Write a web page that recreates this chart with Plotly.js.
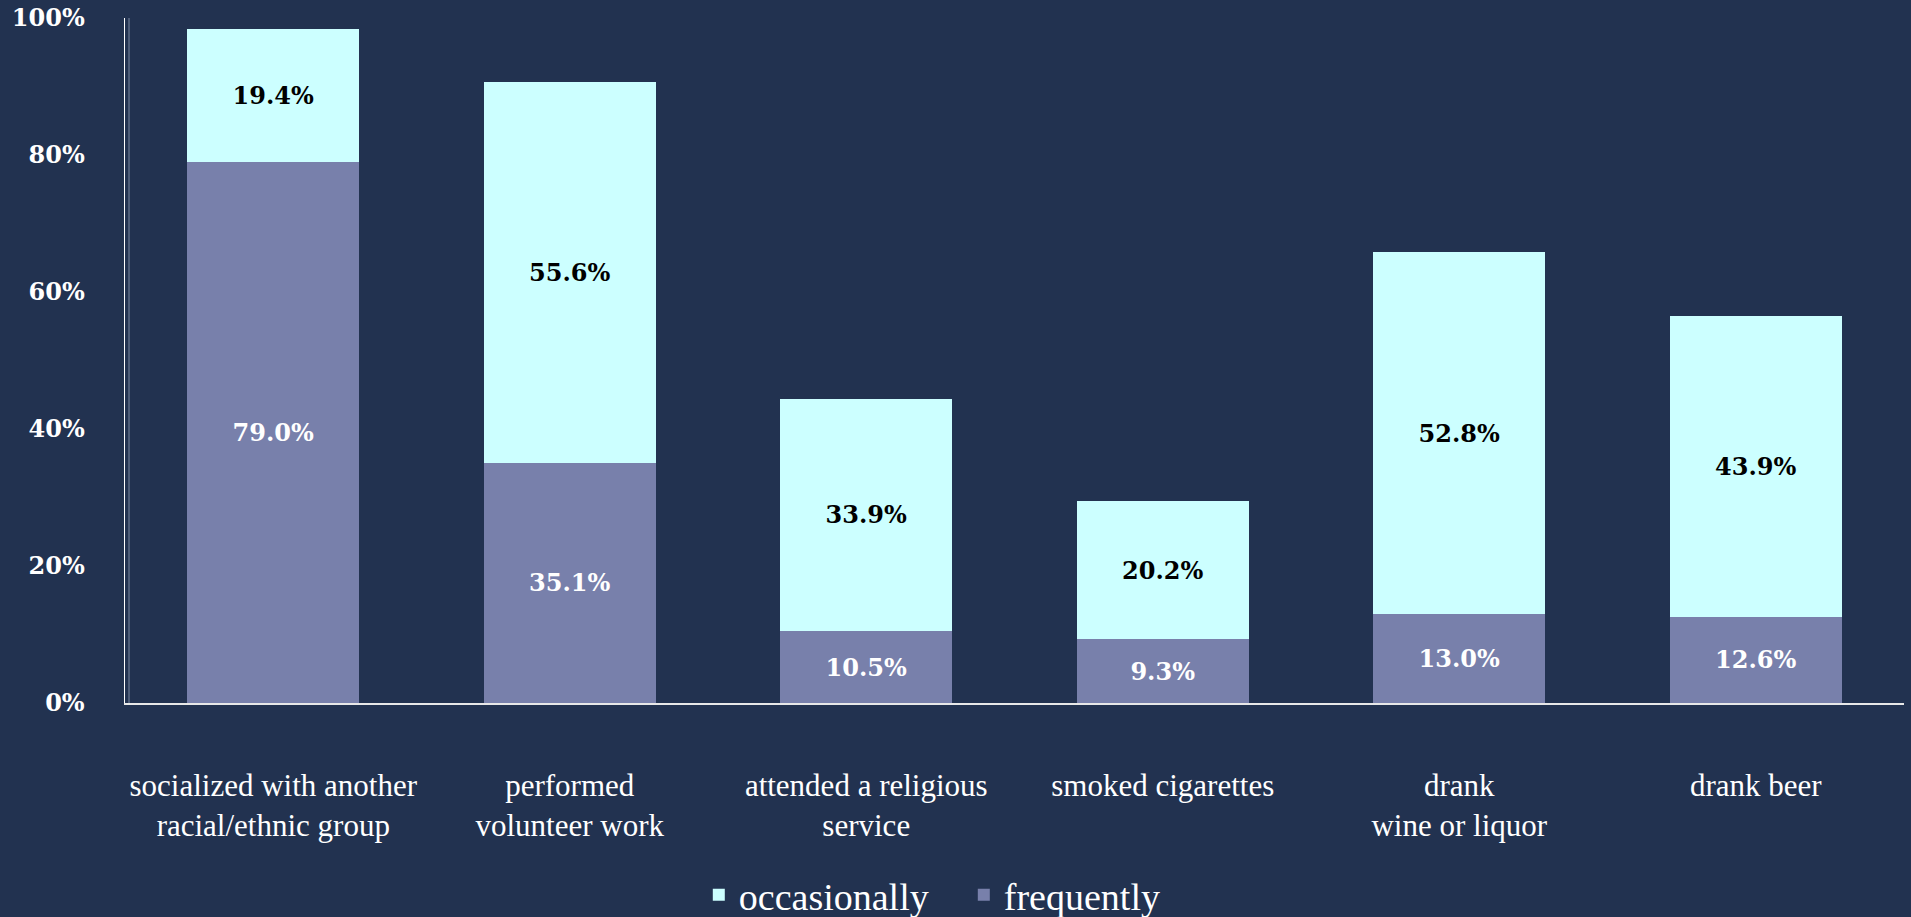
<!DOCTYPE html>
<html>
<head>
<meta charset="utf-8">
<script src="https://cdn.plot.ly/plotly-3.0.1.min.js"></script>
<style>
  html, body { margin: 0; padding: 0; background: #223250; }
  #chart { width: 1911px; height: 917px; }
</style>
</head>
<body>
<div id="chart"></div>
<script>
const categories = [
  "socialized with another<br>racial/ethnic group",
  "performed<br>volunteer work",
  "attended a religious<br>service",
  "smoked cigarettes",
  "drank<br>wine or liquor",
  "drank beer"
];
const frequently = [79.0, 35.1, 10.5, 9.3, 13.0, 12.6];
const occasionally = [19.4, 55.6, 33.9, 20.2, 52.8, 43.9];
const yTickVals = [0, 20, 40, 60, 80, 100];
const yTickText = ["0%", "20%", "40%", "60%", "80%", "100%"];

const BG = "#223250";
const CYAN = "#ccffff";
const PURPLE = "#7880ab";
const SERIF = "'Liberation Serif', 'Times New Roman', serif";
const BOLDSERIF = "'DejaVu Serif', serif";

const traces = [
  {
    type: "bar",
    name: "frequently",
    x: categories,
    y: frequently,
    marker: { color: PURPLE },
    texttemplate: "%{y:.1f}%",
    textposition: "inside",
    insidetextanchor: "middle",
    textangle: 0,
    textfont: { family: BOLDSERIF, size: 24, color: "#ffffff", weight: "bold" },
    hoverinfo: "skip"
  },
  {
    type: "bar",
    name: "occasionally",
    x: categories,
    y: occasionally,
    marker: { color: CYAN },
    texttemplate: "%{y:.1f}%",
    textposition: "inside",
    insidetextanchor: "middle",
    textangle: 0,
    textfont: { family: BOLDSERIF, size: 24, color: "#000000", weight: "bold" },
    hoverinfo: "skip"
  }
];

const layout = {
  width: 1911,
  height: 917,
  paper_bgcolor: BG,
  plot_bgcolor: BG,
  barmode: "stack",
  bargap: 0.42,
  margin: { l: 125, r: 7, t: 18, b: 214, autoexpand: false },
  font: { family: SERIF, color: "#ffffff" },
  xaxis: {
    type: "category",
    showline: true,
    linecolor: "#e8e8e8",
    linewidth: 1.5,
    ticks: "",
    ticklabelstandoff: 54,
    tickfont: { family: SERIF, size: 31, color: "#ffffff" },
    showgrid: false,
    zeroline: false,
    fixedrange: true
  },
  yaxis: {
    range: [0, 100],
    tickmode: "array",
    tickvals: yTickVals,
    ticktext: yTickText,
    showline: true,
    linecolor: "#ffffff",
    linewidth: 1.5,
    ticks: "",
    ticklabelstandoff: 34,
    tickfont: { family: BOLDSERIF, size: 24, color: "#ffffff", weight: "bold" },
    showgrid: false,
    zeroline: false,
    fixedrange: true
  },
  showlegend: true,
  legend: {
    orientation: "h",
    x: 0.4715,
    xanchor: "center",
    xref: "paper",
    yref: "container",
    y: 0.024,
    yanchor: "middle",
    traceorder: "reversed",
    font: { family: SERIF, size: 38, color: "#ffffff" },
    bgcolor: "rgba(0,0,0,0)",
    itemwidth: 30,
    entrywidth: 220
  },
  shapes: [
    {
      type: "line", xref: "paper", yref: "paper",
      x0: 0, x1: 0, y0: 0, y1: 1,
      xsizemode: "pixel", xanchor: 0,
      line: { color: "#7d8aa3", width: 1 }
    }
  ]
};
layout.shapes[0].x0 = 4; layout.shapes[0].x1 = 4;

Plotly.newPlot("chart", traces, layout, { displayModeBar: false, staticPlot: true });
</script>
</body>
</html>
